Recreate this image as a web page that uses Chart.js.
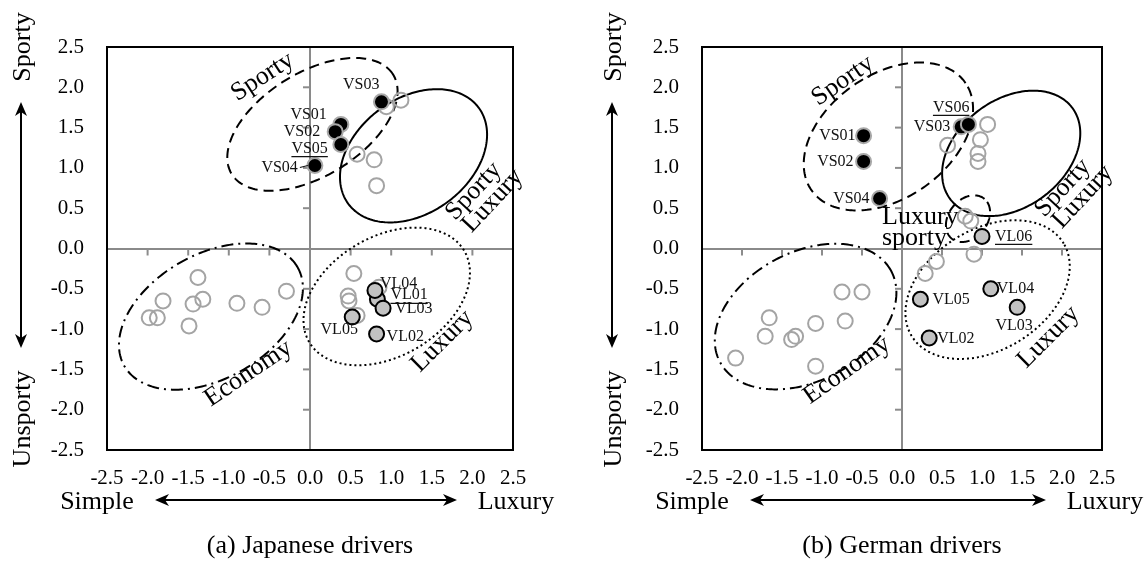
<!DOCTYPE html>
<html><head><meta charset="utf-8">
<script src="https://cdn.jsdelivr.net/npm/chart.js@4.4.0/dist/chart.umd.min.js"></script>
<style>
html,body{margin:0;padding:0;background:#fff;width:1144px;height:563px;overflow:hidden}
.wrap{position:absolute;top:0;width:572px;height:563px}
</style></head><body>
<div class="wrap" style="left:0"><canvas id="jp" width="572" height="563"></canvas></div>
<div class="wrap" style="left:572px"><canvas id="de" width="572" height="563"></canvas></div>
<script>
// ---------- DATA ----------
const axisTicks = [-2.5, -2.0, -1.5, -1.0, -0.5, 0.0, 0.5, 1.0, 1.5, 2.0, 2.5];

// (a) Japanese drivers
const jpOtherX = [-1.98, -1.88, -1.81, -1.38, -1.44, -1.32, -1.49, -0.90, -0.59, -0.29, 0.94, 1.12, 0.58, 0.79, 0.82, 0.54, 0.47, 0.48, 0.85, 0.58];
const jpOtherY = [-0.86, -0.86, -0.65, -0.36, -0.69, -0.63, -0.96, -0.68, -0.73, -0.53, 1.76, 1.84, 1.17, 1.10, 0.78, -0.31, -0.59, -0.65, -0.48, -0.83];
const jpSportyNames = ['VS01', 'VS02', 'VS03', 'VS04', 'VS05'];
const jpSportyX = [0.38, 0.31, 0.88, 0.06, 0.38];
const jpSportyY = [1.54, 1.45, 1.82, 1.03, 1.29];
const jpLuxuryNames = ['VL01', 'VL02', 'VL03', 'VL04', 'VL05'];
const jpLuxuryX = [0.83, 0.82, 0.90, 0.80, 0.52];
const jpLuxuryY = [-0.63, -1.06, -0.74, -0.52, -0.85];
const jpGroupNames = ['Sporty', 'Sporty Luxury', 'Economy', 'Luxury'];
const jpGroupCx = [0.03, 1.275, -1.22, 0.945];
const jpGroupCy = [1.54, 1.15, -0.845, -0.595];
const jpGroupA = [1.17, 1.00, 1.23, 1.11];
const jpGroupB = [0.64, 0.71, 0.77, 0.74];
const jpGroupRot = [32, 37, 30, 31];

// (b) German drivers
const deOtherX = [-2.08, -1.66, -1.71, -1.38, -1.33, -1.08, -1.08, -0.75, -0.50, -0.71, 1.07, 0.57, 0.98, 0.95, 0.95, 0.79, 0.86, 0.90, 0.43, 0.29];
const deOtherY = [-1.36, -0.86, -1.09, -1.13, -1.09, -0.93, -1.46, -0.54, -0.54, -0.90, 1.54, 1.28, 1.35, 1.18, 1.08, 0.40, 0.34, -0.07, -0.16, -0.31];
const deSportyNames = ['VS01', 'VS02', 'VS03', 'VS04', 'VS06'];
const deSportyX = [-0.48, -0.48, 0.74, -0.28, 0.83];
const deSportyY = [1.40, 1.08, 1.51, 0.62, 1.54];
const deLuxuryNames = ['VL02', 'VL03', 'VL04', 'VL05', 'VL06'];
const deLuxuryX = [0.34, 1.44, 1.11, 0.23, 1.00];
const deLuxuryY = [-1.11, -0.73, -0.50, -0.63, 0.15];
const deGroupNames = ['Sporty', 'Sporty Luxury', 'Luxury sporty', 'Economy', 'Luxury'];
const deGroupCx = [-0.17, 1.365, 0.825, -1.205, 1.07];
const deGroupCy = [1.39, 1.18, 0.37, -0.845, -0.51];
const deGroupA = [1.17, 0.95, 0.32, 1.21, 1.11];
const deGroupB = [0.77, 0.67, 0.24, 0.80, 0.75];
const deGroupRot = [34.5, 36, 50, 27.5, 31];

// ---------- STYLES / PLACEMENT ----------
const SERIF = '"Liberation Serif", "Times New Roman", serif';
const groupDash = {
  'Sporty': [10, 6], 'Sporty Luxury': [], 'Luxury sporty': [10, 6],
  'Economy': [12, 5, 2, 5], 'Luxury': [2, 3]
};
const jpGroupText = [
  {t: 'Sporty', x: -0.585, y: 2.13, rot: -33},
  {t: 'Sporty', x: 2.016, y: 0.71, rot: -47},
  {t: 'Luxury', x: 2.25, y: 0.59, rot: -47},
  {t: 'Economy', x: -0.76, y: -1.55, rot: -34},
  {t: 'Luxury', x: 1.63, y: -1.15, rot: -45}
];
const deGroupText = [
  {t: 'Sporty', x: -0.74, y: 2.08, rot: -35},
  {t: 'Sporty', x: 2.01, y: 0.75, rot: -47},
  {t: 'Luxury', x: 2.26, y: 0.64, rot: -47},
  {t: 'Economy', x: -0.69, y: -1.51, rot: -35},
  {t: 'Luxury', x: 1.83, y: -1.10, rot: -45},
  {t: 'Luxury', x: -0.25, y: 0.30, rot: 0, left: true},
  {t: 'sporty', x: -0.25, y: 0.04, rot: 0, left: true}
];
const jpLabelStyle = {
  VS01: {dx: -14, dy: -10, al: 'right'},
  VS02: {dx: -15, dy: 0, al: 'right'},
  VS05: {dx: -13, dy: 4, al: 'right', u: true},
  VS04: {dx: -17, dy: 2, al: 'right', lead: true},
  VS03: {dx: -2, dy: -17, al: 'right'},
  VL04: {dx: 5, dy: -7, al: 'left'},
  VL01: {dx: 13, dy: -4, al: 'left', u: true},
  VL03: {dx: 12, dy: 1, al: 'left'},
  VL05: {dx: -13, dy: 13, al: 'center'},
  VL02: {dx: 10, dy: 3, al: 'left'}
};
const deLabelStyle = {
  VS01: {dx: -8, dy: 0, al: 'right'},
  VS02: {dx: -10, dy: 0, al: 'right'},
  VS04: {dx: -10, dy: 0, al: 'right'},
  VS06: {dx: 1, dy: -17, al: 'right', u: true},
  VS03: {dx: -11, dy: 0, al: 'right'},
  VL06: {dx: 13, dy: 0, al: 'left', u: true},
  VL05: {dx: 12, dy: 1, al: 'left'},
  VL04: {dx: 6, dy: 0, al: 'left'},
  VL03: {dx: -3, dy: 18, al: 'center'},
  VL02: {dx: 8, dy: 1, al: 'left'}
};

// ---------- HELPERS ----------
const zip = (xs, ys) => xs.map((v, i) => ({x: v, y: ys[i]}));
const isZero = v => Math.abs(v) < 1e-9;
const fmt = v => isZero(v) ? '0.0' : Number(v).toFixed(1);

function drawArrow(ctx, x1, y1, x2, y2) {
  const L = 14, W = 6;
  const ang = Math.atan2(y2 - y1, x2 - x1);
  const c = Math.cos(ang), s = Math.sin(ang);
  ctx.beginPath();
  ctx.moveTo(x1 + c * (L - 4), y1 + s * (L - 4));
  ctx.lineTo(x2 - c * (L - 4), y2 - s * (L - 4));
  ctx.stroke();
  const head = (tx, ty, dir) => {
    const bx = tx - dir * c * L, by = ty - dir * s * L;
    const mx = tx - dir * c * (L - 4), my = ty - dir * s * (L - 4);
    ctx.beginPath();
    ctx.moveTo(tx, ty);
    ctx.lineTo(bx - s * W, by + c * W);
    ctx.lineTo(mx, my);
    ctx.lineTo(bx + s * W, by - c * W);
    ctx.closePath();
    ctx.fill();
  };
  head(x2, y2, 1);
  head(x1, y1, -1);
}

function makeDeco(cfg) {
  return {
    id: 'deco_' + cfg.id,
    beforeDatasetsDraw(chart) {
      const {ctx, chartArea: a, scales: {x, y}} = chart;
      ctx.save();
      // tick marks on the zero lines
      ctx.strokeStyle = '#8c8c8c';
      ctx.lineWidth = 2;
      const x0 = x.getPixelForValue(0), y0 = y.getPixelForValue(0);
      x.ticks.forEach(t => {
        if (isZero(t.value) || Math.abs(t.value) > 2.4) return;
        const px = x.getPixelForValue(t.value);
        ctx.beginPath(); ctx.moveTo(px, y0); ctx.lineTo(px, y0 + 7); ctx.stroke();
      });
      y.ticks.forEach(t => {
        if (isZero(t.value) || Math.abs(t.value) > 2.4) return;
        const py = y.getPixelForValue(t.value);
        ctx.beginPath(); ctx.moveTo(x0, py); ctx.lineTo(x0 - 7, py); ctx.stroke();
      });
      // cluster ellipses
      ctx.strokeStyle = '#000';
      ctx.lineWidth = 2;
      cfg.groups.names.forEach((nm, i) => {
        const cx = cfg.groups.cx[i], cy = cfg.groups.cy[i];
        const ea = cfg.groups.a[i], eb = cfg.groups.b[i];
        const th = cfg.groups.rot[i] * Math.PI / 180;
        ctx.beginPath();
        const N = 240;
        for (let k = 0; k <= N; k++) {
          const t = k / N * Math.PI * 2;
          const dx = ea * Math.cos(t), dy = eb * Math.sin(t);
          const vx = cx + dx * Math.cos(th) - dy * Math.sin(th);
          const vy = cy + dx * Math.sin(th) + dy * Math.cos(th);
          const px = x.getPixelForValue(vx), py = y.getPixelForValue(vy);
          if (k === 0) ctx.moveTo(px, py); else ctx.lineTo(px, py);
        }
        ctx.closePath();
        ctx.setLineDash(groupDash[nm] || []);
        ctx.stroke();
      });
      ctx.setLineDash([]);
      // frame
      ctx.strokeStyle = '#000';
      ctx.lineWidth = 2;
      ctx.strokeRect(a.left, a.top, a.right - a.left, a.bottom - a.top);
      ctx.restore();
    },
    afterDatasetsDraw(chart) {
      const {ctx, scales: {x, y}} = chart;
      ctx.save();
      // point labels
      ctx.fillStyle = '#111';
      ctx.strokeStyle = '#111';
      ctx.font = '16px ' + SERIF;
      ctx.textBaseline = 'middle';
      chart.data.datasets.forEach((ds, i) => {
        if (!ds.names) return;
        const meta = chart.getDatasetMeta(i);
        meta.data.forEach((el, j) => {
          const nm = ds.names[j];
          const st = cfg.labelStyle[nm];
          if (!st) return;
          const tx = el.x + st.dx, ty = el.y + st.dy;
          ctx.textAlign = st.al;
          ctx.fillText(nm, tx, ty);
          const w = ctx.measureText(nm).width;
          let lx = tx;
          if (st.al === 'right') lx = tx - w; else if (st.al === 'center') lx = tx - w / 2;
          if (st.u) {
            ctx.lineWidth = 1.2;
            ctx.beginPath(); ctx.moveTo(lx, ty + 8); ctx.lineTo(lx + w, ty + 8); ctx.stroke();
          }
          if (st.lead) {
            ctx.lineWidth = 1.2;
            ctx.beginPath(); ctx.moveTo(tx + 2, ty); ctx.lineTo(el.x - 7, el.y); ctx.stroke();
          }
        });
      });
      // cluster labels
      ctx.fillStyle = '#000';
      ctx.font = '26px ' + SERIF;
      cfg.groupText.forEach(g => {
        const px = x.getPixelForValue(g.x), py = y.getPixelForValue(g.y);
        ctx.save();
        ctx.translate(px, py);
        ctx.rotate(g.rot * Math.PI / 180);
        if (g.left) { ctx.textAlign = 'left'; ctx.textBaseline = 'alphabetic'; }
        else { ctx.textAlign = 'center'; ctx.textBaseline = 'middle'; }
        ctx.fillText(g.t, 0, 0);
        ctx.restore();
      });
      ctx.restore();
    },
    afterDraw(chart) {
      const {ctx, chartArea: a} = chart;
      ctx.save();
      ctx.fillStyle = '#000';
      ctx.strokeStyle = '#000';
      ctx.lineWidth = 2;
      const ax = cfg.arrowX;
      drawArrow(ctx, ax, a.top + 55, ax, a.bottom - 102);
      drawArrow(ctx, a.left + 48, a.bottom + 50, a.right - 56, a.bottom + 50);
      ctx.font = '26px ' + SERIF;
      ctx.textAlign = 'center';
      ctx.textBaseline = 'middle';
      [['Sporty', a.top], ['Unsporty', a.bottom - 31]].forEach(([t, py]) => {
        ctx.save();
        ctx.translate(ax + 2, py);
        ctx.rotate(-Math.PI / 2);
        ctx.fillText(t, 0, 0);
        ctx.restore();
      });
      ctx.fillText('Simple', a.left - 10, a.bottom + 52);
      ctx.fillText('Luxury', a.right + 3, a.bottom + 52);
      ctx.restore();
    }
  };
}

function axisOpts(isX, yWidth) {
  return {
    type: 'linear',
    min: -2.5, max: 2.5,
    afterBuildTicks: s => { s.ticks = axisTicks.map(v => ({value: v})); },
    afterFit: s => { if (isX) s.height = 81; else s.width = yWidth; },
    grid: {
      color: c => (c.tick && isZero(c.tick.value)) ? '#8a8a8a' : 'rgba(0,0,0,0)',
      lineWidth: 2,
      drawTicks: false
    },
    border: {display: false},
    ticks: {
      padding: isX ? 16 : 23,
      color: '#000',
      autoSkip: false,
      maxRotation: 0,
      font: {family: SERIF, size: 21},
      callback: v => fmt(v)
    }
  };
}

function makeChart(id, cfg) {
  return new Chart(document.getElementById(id), {
    type: 'scatter',
    data: {
      datasets: [
        {label: 'other', data: zip(cfg.otherX, cfg.otherY), order: 3,
         pointRadius: 7.5, pointHoverRadius: 7.5, pointBorderWidth: 2,
         pointBorderColor: '#a4a4a4', pointBackgroundColor: 'rgba(0,0,0,0)'},
        {label: 'VS', names: cfg.vsNames, data: zip(cfg.vsX, cfg.vsY), order: 2,
         pointRadius: 7.5, pointHoverRadius: 7.5, pointBorderWidth: 2,
         pointBorderColor: '#a8a8a8', pointBackgroundColor: '#000'},
        {label: 'VL', names: cfg.vlNames, data: zip(cfg.vlX, cfg.vlY), order: 1,
         pointRadius: 7.5, pointHoverRadius: 7.5, pointBorderWidth: 2,
         pointBorderColor: '#000', pointBackgroundColor: '#c2c2c2'}
      ]
    },
    options: {
      responsive: false,
      animation: false,
      events: [],
      layout: {padding: {left: 0, top: 47, right: cfg.padRight, bottom: 0.8}},
      plugins: {
        legend: {display: false},
        tooltip: {enabled: false},
        title: {display: true, text: cfg.title, position: 'bottom', fullSize: false,
                padding: 0, color: '#000', font: {family: SERIF, size: 26, weight: 'normal'}}
      },
      scales: {x: axisOpts(true), y: axisOpts(false, cfg.yWidth)}
    },
    plugins: [makeDeco(cfg)]
  });
}

makeChart('jp', {
  id: 'jp', title: '(a) Japanese drivers', yWidth: 107, padRight: 59, arrowX: 21,
  otherX: jpOtherX, otherY: jpOtherY,
  vsNames: jpSportyNames, vsX: jpSportyX, vsY: jpSportyY,
  vlNames: jpLuxuryNames, vlX: jpLuxuryX, vlY: jpLuxuryY,
  groups: {names: jpGroupNames, cx: jpGroupCx, cy: jpGroupCy, a: jpGroupA, b: jpGroupB, rot: jpGroupRot},
  groupText: jpGroupText, labelStyle: jpLabelStyle
});
makeChart('de', {
  id: 'de', title: '(b) German drivers', yWidth: 130, padRight: 42, arrowX: 40,
  otherX: deOtherX, otherY: deOtherY,
  vsNames: deSportyNames, vsX: deSportyX, vsY: deSportyY,
  vlNames: deLuxuryNames, vlX: deLuxuryX, vlY: deLuxuryY,
  groups: {names: deGroupNames, cx: deGroupCx, cy: deGroupCy, a: deGroupA, b: deGroupB, rot: deGroupRot},
  groupText: deGroupText, labelStyle: deLabelStyle
});
</script>
</body></html>
